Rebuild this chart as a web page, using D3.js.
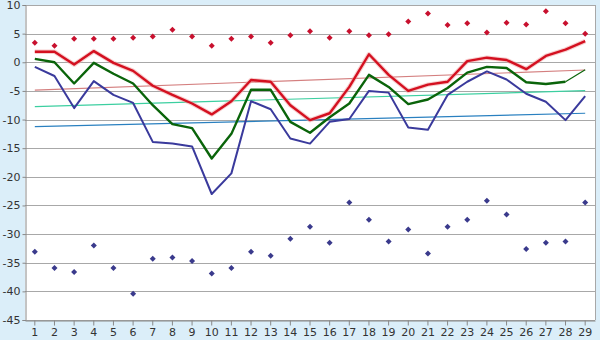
<!DOCTYPE html>
<html>
<head>
<meta charset="utf-8">
<script src="https://cdn.jsdelivr.net/npm/d3@7"></script>
<style>
  html, body { margin: 0; padding: 0; background: #dbeef9; }
  svg { display: block; }
  text { font-family: "DejaVu Sans", Verdana, sans-serif; font-size: 11px; fill: #333; }
</style>
</head>
<body>
<svg id="chart" width="600" height="340"></svg>
<script>
// Day numbers along the x axis
const categories = d3.range(1, 30).map(String);

// Main series
const redLine = [1.85, 1.85, -0.4, 1.95, -0.1, -1.5, -4.1, -5.7, -7.2, -9.1, -6.8, -3.1, -3.4, -7.5, -10.1,
  -8.9, -4.3, 1.4, -2.2, -5.0, -3.9, -3.4, 0.2, 0.8, 0.4, -1.2, 1.1, 2.2, 3.7];
const greenLine = [0.6, 0.0, -3.7, -0.1, -2.0, -3.7, -7.5, -10.8, -11.5, -16.8, -12.5, -4.8, -4.8, -10.4, -12.3,
  -9.6, -7.2, -2.2, -4.3, -7.3, -6.5, -4.5, -1.8, -0.8, -1.0, -3.5, -3.8, -3.4, -1.3];
const blueLine = [-0.8, -2.4, -8.0, -3.3, -5.7, -7.1, -13.9, -14.2, -14.7, -23.0, -19.4, -6.8, -8.2, -13.3, -14.2,
  -10.4, -9.9, -5.0, -5.3, -11.4, -11.8, -5.7, -3.4, -1.6, -3.0, -5.5, -6.9, -10.1, -5.9];

// Daily extremes shown as markers
const redMarks = [3.4, 2.9, 4.1, 4.1, 4.1, 4.3, 4.5, 5.7, 4.5, 2.9, 4.1, 4.5, 3.4, 4.7, 5.4,
  4.3, 5.4, 4.7, 4.9, 7.1, 8.5, 6.5, 6.8, 5.2, 6.9, 6.6, 8.9, 6.8, 5.0];
const blueMarks = [-33.1, -35.9, -36.6, -32.0, -35.9, -40.4, -34.3, -34.1, -34.7, -36.9, -35.9, -33.1, -33.8, -30.8, -28.7,
  -31.5, -24.5, -27.5, -31.3, -29.2, -33.4, -28.7, -27.5, -24.2, -26.6, -32.6, -31.5, -31.3, -24.5];

// Trend lines: value at the first and at the last day
const trendRed = [-4.85, -1.35];
const trendGreen = [-7.75, -4.95];
const trendBlue = [-11.25, -8.9];

const yTicks = d3.range(-45, 11, 5);

const svg = d3.select("#chart");
const plot = { left: 25, right: 595, top: 5, bottom: 320 };

const x = d3.scaleBand().domain(categories).range([plot.left, plot.right]).padding(0);
const y = d3.scaleLinear().domain([-45, 10]).range([plot.bottom, plot.top]);
const cx = c => x(c) + x.bandwidth() / 2;

// plot background
svg.append("rect")
  .attr("x", plot.left).attr("y", plot.top)
  .attr("width", plot.right - plot.left).attr("height", plot.bottom - plot.top)
  .attr("fill", "#ffffff");

// horizontal grid lines
svg.append("g")
  .selectAll("line")
  .data(yTicks)
  .join("line")
  .attr("x1", plot.left).attr("x2", plot.right)
  .attr("y1", d => Math.round(y(d)) + 0.5).attr("y2", d => Math.round(y(d)) + 0.5)
  .attr("stroke", "#a8a8a8").attr("stroke-width", 1);

// right border
svg.append("line")
  .attr("x1", plot.right + 0.5).attr("x2", plot.right + 0.5)
  .attr("y1", plot.top).attr("y2", plot.bottom)
  .attr("stroke", "#a8a8a8");

// y axis (plain hyphen for negatives)
const yAxis = svg.append("g")
  .attr("transform", `translate(${plot.left + 0.5},0)`)
  .call(d3.axisLeft(y).tickValues(yTicks).tickSize(3).tickPadding(2).tickFormat(d => String(d)));
yAxis.select(".domain").attr("stroke", "#888");
yAxis.selectAll(".tick line").attr("stroke", "#888");
yAxis.selectAll("text").style("font-size", "11px").attr("fill", "#333");

// x axis
const xAxis = svg.append("g")
  .attr("transform", `translate(0,${plot.bottom + 0.5})`)
  .call(d3.axisBottom(x).tickSize(5).tickPadding(3).tickSizeOuter(0));
xAxis.select(".domain").attr("stroke", "#888");
xAxis.selectAll(".tick line").attr("stroke", "#888");
xAxis.selectAll("text").style("font-size", "11px").attr("fill", "#333");

// trend lines
const trends = [
  { v: trendRed, color: "#d47f7f" },
  { v: trendGreen, color: "#3ccfa0" },
  { v: trendBlue, color: "#2a80c0" }
];
svg.append("g")
  .selectAll("line")
  .data(trends)
  .join("line")
  .attr("x1", cx(categories[0])).attr("x2", cx(categories[categories.length - 1]))
  .attr("y1", d => y(d.v[0])).attr("y2", d => y(d.v[1]))
  .attr("stroke", d => d.color).attr("stroke-width", 1.2);

const line = d3.line()
  .x((d, i) => cx(categories[i]))
  .y(d => y(d));

// blue series
svg.append("path")
  .datum(blueLine)
  .attr("fill", "none")
  .attr("stroke", "#3a3a9c")
  .attr("stroke-width", 2)
  .attr("stroke-linejoin", "round")
  .attr("d", line);

// green series: thick up to day 28, thin final segment
const lastIdx = greenLine.length - 1;
svg.append("path")
  .datum(greenLine.slice(0, lastIdx))
  .attr("fill", "none")
  .attr("stroke", "#0a640a")
  .attr("stroke-width", 2.4)
  .attr("stroke-linejoin", "round")
  .attr("d", line);
svg.append("line")
  .attr("x1", cx(categories[lastIdx - 1])).attr("y1", y(greenLine[lastIdx - 1]))
  .attr("x2", cx(categories[lastIdx])).attr("y2", y(greenLine[lastIdx]))
  .attr("stroke", "#0a640a").attr("stroke-width", 1.2);

// red series with soft halo
svg.append("path")
  .datum(redLine)
  .attr("fill", "none")
  .attr("stroke", "#f0a0a0")
  .attr("stroke-width", 4.5)
  .attr("stroke-opacity", 0.5)
  .attr("stroke-linejoin", "round")
  .attr("d", line);
svg.append("path")
  .datum(redLine)
  .attr("fill", "none")
  .attr("stroke", "#d41020")
  .attr("stroke-width", 2.4)
  .attr("stroke-linejoin", "round")
  .attr("d", line);

// markers: small square-cornered diamonds
const diamond = d3.symbol().type(d3.symbolSquare).size(18);
svg.append("g")
  .selectAll("path")
  .data(redMarks)
  .join("path")
  .attr("transform", (d, i) => `translate(${cx(categories[i])},${y(d)}) rotate(45)`)
  .attr("d", diamond)
  .attr("fill", "#c8102e");
svg.append("g")
  .selectAll("path")
  .data(blueMarks)
  .join("path")
  .attr("transform", (d, i) => `translate(${cx(categories[i])},${y(d)}) rotate(45)`)
  .attr("d", diamond)
  .attr("fill", "#3a3a8c");
</script>
</body>
</html>
